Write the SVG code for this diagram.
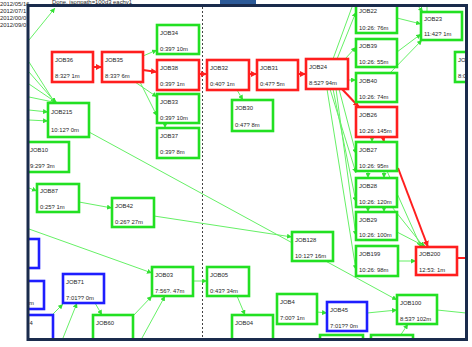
<svg xmlns="http://www.w3.org/2000/svg" width="472" height="347" viewBox="0 0 472 347">
  <style>
    .bg{fill:#fff}
    .node rect{fill:#fff;stroke-width:2.6}
    .g rect{stroke:#22e022}
    .r rect{stroke:#ff1e1e}
    .b rect{stroke:#1e1eff}
    .node text,.hdr{font-family:"Liberation Sans",Arial,sans-serif;font-size:5.9px;fill:#262626}
    .e{fill:none;stroke:#66f066;stroke-width:1}
    .er{fill:none;stroke:#ff1e1e;stroke-width:2}
    .frame{fill:none;stroke:#1a2b4c;stroke-width:3}
    .sep{stroke:#444;stroke-width:1;stroke-dasharray:2 2}
  </style>
  <defs>
    <marker id="ag" viewBox="0 0 6 6" refX="6" refY="3" markerWidth="5" markerHeight="5" orient="auto" markerUnits="userSpaceOnUse">
      <path d="M0,0 L6,3 L0,6 z" fill="#33e033"/>
    </marker>
    <marker id="ar" viewBox="0 0 6 6" refX="6" refY="3" markerWidth="6" markerHeight="6" orient="auto" markerUnits="userSpaceOnUse">
      <path d="M0,0 L6,3 L0,6 z" fill="#ff1e1e"/>
    </marker>
    <clipPath id="view"><rect x="29" y="7" width="436.5" height="331"/></clipPath>
  </defs>

  <rect class="bg" width="472" height="347"/>

  <!-- status text outside the view -->
  <g class="hdr">
    <text x="0" y="6">2012/05/16</text>
    <text x="0" y="13">2012/07/1</text>
    <text x="0" y="20">2012/00/0</text>
    <text x="0" y="27">2012/09/0</text>
    <text x="52" y="4">Done, jsonpath=100d3 eachv1</text>
  </g>
  <rect x="220" y="0" width="36" height="4.5" fill="#2c5a98"/>

  <g clip-path="url(#view)">
    <rect x="29" y="7" width="437" height="331" fill="#fff"/>
    <line class="sep" x1="202.5" y1="7" x2="202.5" y2="338"/>

    <g id="connectors">
      <!-- critical path -->
      <line class="er" x1="93" y1="67" x2="102" y2="67" marker-end="url(#ar)"/>
      <line class="er" x1="143" y1="70" x2="157" y2="72" marker-end="url(#ar)"/>
      <line class="er" x1="199" y1="74" x2="207" y2="74" marker-end="url(#ar)"/>
      <line class="er" x1="249" y1="74" x2="257" y2="74" marker-end="url(#ar)"/>
      <line class="er" x1="298" y1="74" x2="306" y2="74" marker-end="url(#ar)"/>
      <line class="er" x1="342" y1="89" x2="359" y2="107" marker-end="url(#ar)"/>
      <line class="er" x1="383" y1="137" x2="384" y2="142" marker-end="url(#ar)"/>
      <line class="er" x1="398" y1="168" x2="428" y2="247" marker-end="url(#ar)"/>
      <line class="er" x1="457" y1="258" x2="472" y2="258"/>

      <!-- left side feeds -->
      <line class="e" x1="29" y1="40" x2="55" y2="8" marker-end="url(#ag)"/>
      <line class="e" x1="29" y1="62" x2="55" y2="103" marker-end="url(#ag)"/>
      <line class="e" x1="29" y1="72" x2="56" y2="103" marker-end="url(#ag)"/>
      <line class="e" x1="29" y1="84" x2="57" y2="103" marker-end="url(#ag)"/>
      <line class="e" x1="29" y1="97" x2="58" y2="103" marker-end="url(#ag)"/>
      <line class="e" x1="29" y1="110" x2="48" y2="112" marker-end="url(#ag)"/>
      <line class="e" x1="29" y1="120" x2="48" y2="121" marker-end="url(#ag)"/>
      <line class="e" x1="89" y1="132" x2="397" y2="300" marker-end="url(#ag)"/>
      <line class="e" x1="29" y1="188" x2="37" y2="191" marker-end="url(#ag)"/>
      <line class="e" x1="79" y1="202" x2="112" y2="208" marker-end="url(#ag)"/>
      <line class="e" x1="154" y1="216" x2="292" y2="237" marker-end="url(#ag)"/>
      <line class="e" x1="29" y1="229" x2="152" y2="273" marker-end="url(#ag)"/>

      <!-- upper chain -->
      <line class="e" x1="143" y1="56" x2="157" y2="50" marker-end="url(#ag)"/>
      <line class="e" x1="135" y1="82" x2="157" y2="97" marker-end="url(#ag)"/>
      <line class="e" x1="140" y1="82" x2="157" y2="116" marker-end="url(#ag)"/>
      <line class="e" x1="165" y1="123" x2="165" y2="128" marker-end="url(#ag)"/>
      <line class="e" x1="237" y1="90" x2="243" y2="100" marker-end="url(#ag)"/>

      <!-- fan out of JOB24 -->
      <line class="e" x1="333" y1="59" x2="352" y2="7"/>
      <line class="e" x1="337" y1="59" x2="356" y2="12" marker-end="url(#ag)"/>
      <line class="e" x1="345" y1="59" x2="356" y2="47" marker-end="url(#ag)"/>
      <line class="e" x1="348" y1="80" x2="356" y2="80" marker-end="url(#ag)"/>
      <line class="e" x1="330" y1="89" x2="356" y2="173" marker-end="url(#ag)"/>
      <line class="e" x1="333" y1="89" x2="356" y2="202" marker-end="url(#ag)"/>
      <line class="e" x1="336" y1="89" x2="356" y2="236" marker-end="url(#ag)"/>
      <line class="e" x1="339" y1="89" x2="356" y2="154" marker-end="url(#ag)"/>
      <line class="e" x1="327" y1="89" x2="356" y2="270" marker-end="url(#ag)"/>

      <!-- into JOB23 -->
      <line class="e" x1="397" y1="18" x2="421" y2="24" marker-end="url(#ag)"/>
      <line class="e" x1="397" y1="52" x2="421" y2="34" marker-end="url(#ag)"/>
      <line class="e" x1="390" y1="73" x2="422" y2="40" marker-end="url(#ag)"/>
      <line class="e" x1="413" y1="0" x2="423" y2="12" marker-end="url(#ag)"/>
      <line class="e" x1="427" y1="0" x2="427" y2="12"/>
      <line class="e" x1="380" y1="0" x2="386" y2="7"/>

      <!-- column links -->
      <line class="e" x1="372" y1="137" x2="372" y2="142" marker-end="url(#ag)"/>
      <line class="e" x1="368" y1="171" x2="368" y2="178" marker-end="url(#ag)"/>
      <line class="e" x1="384" y1="171" x2="384" y2="178" marker-end="url(#ag)"/>
      <line class="e" x1="368" y1="207" x2="368" y2="212" marker-end="url(#ag)"/>
      <line class="e" x1="384" y1="207" x2="384" y2="212" marker-end="url(#ag)"/>
      <line class="e" x1="387" y1="171" x2="421" y2="247" marker-end="url(#ag)"/>
      <line class="e" x1="392" y1="207" x2="424" y2="247" marker-end="url(#ag)"/>
      <line class="e" x1="397" y1="232" x2="426" y2="247" marker-end="url(#ag)"/>
      <line class="e" x1="398" y1="261" x2="416" y2="261" marker-end="url(#ag)"/>

      <!-- lower part -->
      <line class="e" x1="53" y1="314" x2="63" y2="304" marker-end="url(#ag)"/>
      <line class="e" x1="63" y1="338" x2="77" y2="303" marker-end="url(#ag)"/>
      <line class="e" x1="95" y1="303" x2="102" y2="315" marker-end="url(#ag)"/>
      <line class="e" x1="133" y1="316" x2="152" y2="296" marker-end="url(#ag)"/>
      <line class="e" x1="142" y1="338" x2="165" y2="296" marker-end="url(#ag)"/>
      <line class="e" x1="193" y1="281" x2="207" y2="281" marker-end="url(#ag)"/>
      <line class="e" x1="237" y1="296" x2="245" y2="315" marker-end="url(#ag)"/>
      <line class="e" x1="317" y1="312" x2="327" y2="313" marker-end="url(#ag)"/>
      <line class="e" x1="367" y1="313" x2="397" y2="310" marker-end="url(#ag)"/>
      <line class="e" x1="400" y1="336" x2="408" y2="324" marker-end="url(#ag)"/>
      <line class="e" x1="437" y1="310" x2="466" y2="313"/>
    </g>

    <g id="JOB36" class="node r"><rect x="52" y="52" width="41" height="30"/><text x="55" y="62">JOB36</text><text x="55" y="78">8:32? 1m</text></g>
    <g id="JOB35" class="node r"><rect x="102" y="52" width="41" height="30"/><text x="105" y="62">JOB35</text><text x="105" y="78">8:33? 6m</text></g>
    <g id="JOB34" class="node g"><rect x="157" y="25" width="42" height="29"/><text x="160" y="35">JOB34</text><text x="160" y="51">0:39? 10m</text></g>
    <g id="JOB38" class="node r"><rect x="157" y="60" width="42" height="30"/><text x="160" y="70">JOB38</text><text x="160" y="86">0:39? 1m</text></g>
    <g id="JOB33" class="node g"><rect x="157" y="94" width="42" height="29"/><text x="160" y="104">JOB33</text><text x="160" y="120">0:39? 10m</text></g>
    <g id="JOB37" class="node g"><rect x="157" y="128" width="42" height="30"/><text x="160" y="138">JOB37</text><text x="160" y="154">0:39? 8m</text></g>
    <g id="JOB32" class="node r"><rect x="207" y="60" width="42" height="30"/><text x="210" y="70">JOB32</text><text x="210" y="86">0:40? 1m</text></g>
    <g id="JOB31" class="node r"><rect x="257" y="60" width="41" height="30"/><text x="260" y="70">JOB31</text><text x="260" y="86">0:47? 5m</text></g>
    <g id="JOB30" class="node g"><rect x="232" y="100" width="41" height="31"/><text x="235" y="110">JOB30</text><text x="235" y="127">0:47? 8m</text></g>
    <g id="JOB24" class="node r"><rect x="306" y="59" width="42" height="30"/><text x="309" y="69">JOB24</text><text x="309" y="85">8:52? 94m</text></g>
    <g id="JOB22" class="node g"><rect x="356" y="3" width="41" height="30"/><text x="359" y="13">JOB22</text><text x="359" y="30">10:26: 76m</text></g>
    <g id="JOB23" class="node g"><rect x="421" y="12" width="41" height="28"/><text x="424" y="21">JOB23</text><text x="424" y="36">11:42? 1m</text></g>
    <g id="JOB39" class="node g"><rect x="356" y="39" width="41" height="28"/><text x="359" y="48">JOB39</text><text x="359" y="64">10:26: 55m</text></g>
    <g id="JOB40" class="node g"><rect x="356" y="73" width="41" height="29"/><text x="359" y="83">JOB40</text><text x="359" y="99">10:26: 74m</text></g>
    <g id="JOB26" class="node r"><rect x="356" y="107" width="41" height="30"/><text x="359" y="117">JOB26</text><text x="359" y="133">10:26: 145m</text></g>
    <g id="JOB27" class="node g"><rect x="356" y="142" width="41" height="29"/><text x="359" y="152">JOB27</text><text x="359" y="168">10:26: 95m</text></g>
    <g id="JOB28" class="node g"><rect x="356" y="178" width="41" height="29"/><text x="359" y="188">JOB28</text><text x="359" y="204">10:26: 120m</text></g>
    <g id="JOB29" class="node g"><rect x="356" y="212" width="41" height="28"/><text x="359" y="222">JOB29</text><text x="359" y="237">10:26: 100m</text></g>
    <g id="JOB199" class="node g"><rect x="356" y="246" width="42" height="30"/><text x="359" y="256">JOB199</text><text x="359" y="272">10:26: 98m</text></g>
    <g id="JOB200" class="node r"><rect x="416" y="247" width="41" height="28"/><text x="419" y="256">JOB200</text><text x="419" y="272">12:53: 1m</text></g>
    <g id="JOB128" class="node g"><rect x="292" y="232" width="41" height="29"/><text x="295" y="242">JOB128</text><text x="295" y="258">10:12? 16m</text></g>
    <g id="JOB100" class="node g"><rect x="397" y="295" width="40" height="29"/><text x="400" y="305">JOB100</text><text x="400" y="321">8:53? 102m</text></g>
    <g id="JOB45" class="node b"><rect x="327" y="302" width="40" height="29"/><text x="330" y="312">JOB45</text><text x="330" y="328">7:01?? 0m</text></g>
    <g id="JOB4" class="node g"><rect x="277" y="294" width="40" height="30"/><text x="280" y="304">JOB4</text><text x="280" y="320">7:00? 1m</text></g>
    <g id="JOB05" class="node g"><rect x="207" y="267" width="42" height="29"/><text x="210" y="277">JOB05</text><text x="210" y="293">0:43? 34m</text></g>
    <g id="JOB03" class="node g"><rect x="152" y="267" width="41" height="29"/><text x="155" y="277">JOB03</text><text x="155" y="293">7:56?. 47m</text></g>
    <g id="JOB04" class="node g"><rect x="232" y="315" width="41" height="30"/><text x="235" y="325">JOB04</text></g>
    <g id="JOB60" class="node g"><rect x="93" y="315" width="40" height="30"/><text x="96" y="325">JOB60</text></g>
    <g id="JOB71" class="node b"><rect x="63" y="274" width="41" height="29"/><text x="66" y="284">JOB71</text><text x="66" y="300">7:01?? 0m</text></g>
    <g id="blueA" class="node b"><rect x="10" y="239" width="29" height="29"/></g>
    <g id="blueB" class="node b"><rect x="10" y="281" width="34" height="28"/><text x="29" y="305">m</text></g>
    <g id="blueC" class="node b"><rect x="10" y="315" width="43" height="30"/><text x="29.5" y="325">4</text></g>
    <g id="JOB215" class="node g"><rect x="48" y="103" width="41" height="34"/><text x="51" y="114">JOB215</text><text x="51" y="132">10:12? 0m</text></g>
    <g id="JOB10" class="node g"><rect x="27" y="142" width="42" height="30"/><text x="30" y="152">JOB10</text><text x="30" y="168">9:29? 3m</text></g>
    <g id="JOB87" class="node g"><rect x="37" y="184" width="42" height="28"/><text x="40" y="193">JOB87</text><text x="40" y="209">0:25? 1m</text></g>
    <g id="JOB42" class="node g"><rect x="112" y="198" width="42" height="29"/><text x="115" y="208">JOB42</text><text x="115" y="224">0:26? 27m</text></g>
    <g id="JOB_r" class="node g"><rect x="455" y="52" width="20" height="30"/><text x="458" y="62">JOB</text><text x="458" y="78">8:0</text></g>
    <g id="JOB_b1" class="node g"><rect x="320" y="335" width="43" height="20"/></g>
    <g id="JOB_b2" class="node g"><rect x="371" y="335" width="42" height="20"/></g>
  </g>

  <rect class="frame" x="28" y="5.5" width="438.5" height="334"/>
</svg>
